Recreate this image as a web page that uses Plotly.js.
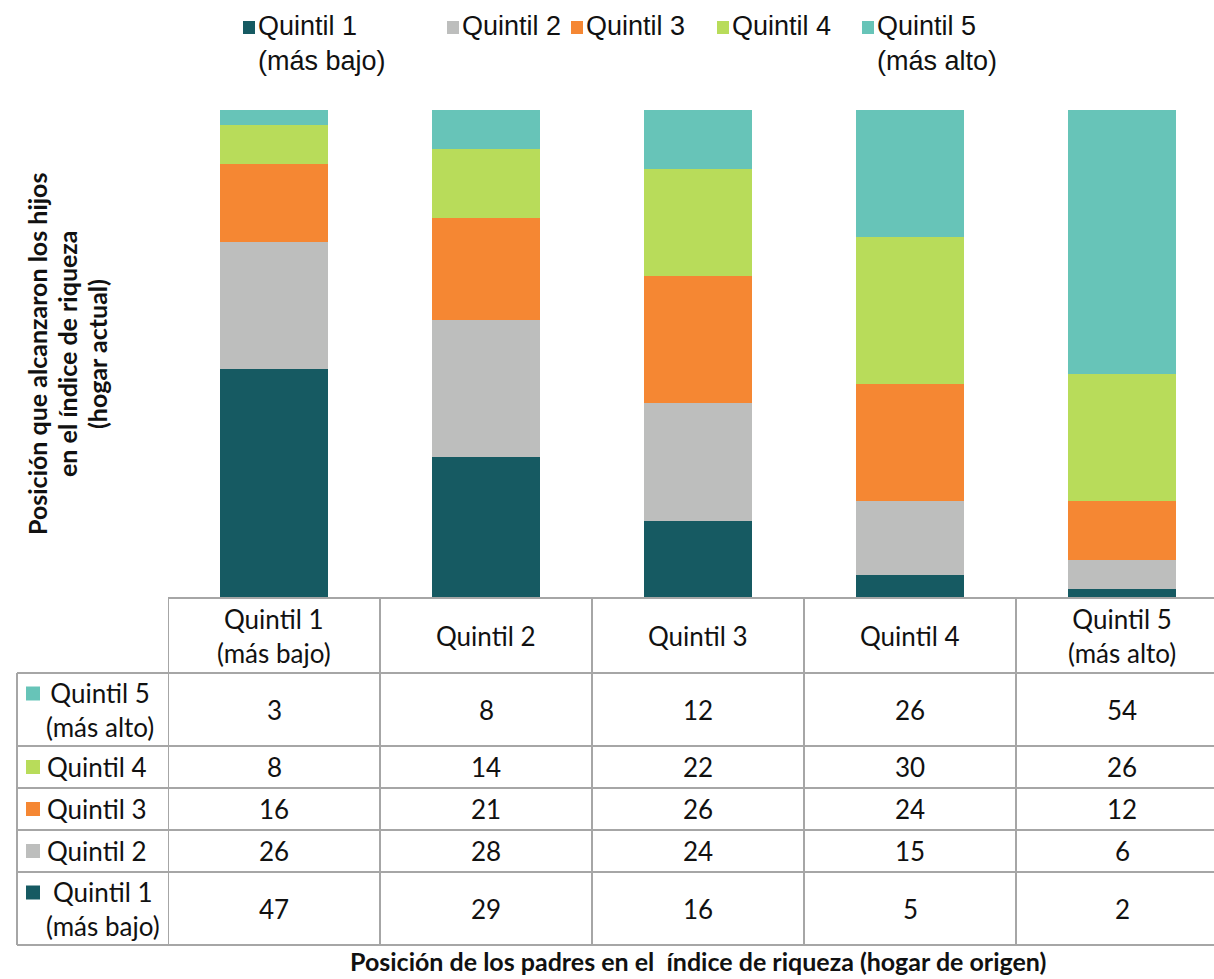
<!DOCTYPE html>
<html>
<head>
<meta charset="utf-8">
<script src="https://cdn.plot.ly/plotly-3.0.1.min.js"></script>
<style>html,body{margin:0;padding:0;background:#fff;}</style>
</head>
<body>
<div id="chart" style="width:1214px;height:979px;"></div>
<script>
// ---- data ----
const categories = ['Quintil 1 (más bajo)', 'Quintil 2', 'Quintil 3', 'Quintil 4', 'Quintil 5 (más alto)'];
const headerLabels = ['Quintil 1<br>(más bajo)', 'Quintil 2', 'Quintil 3', 'Quintil 4', 'Quintil 5<br>(más alto)'];
const seriesNames = ['Quintil 1<br>(más bajo)', 'Quintil 2', 'Quintil 3', 'Quintil 4', 'Quintil 5<br>(más alto)'];
const q1 = [47, 29, 16, 5, 2];
const q2 = [26, 28, 24, 15, 6];
const q3 = [16, 21, 26, 24, 12];
const q4 = [8, 14, 22, 30, 26];
const q5 = [3, 8, 12, 26, 54];
const seriesValues = [q1, q2, q3, q4, q5];
const colors = ['#165a62', '#bdbebd', '#f58733', '#b8dc5a', '#67c4b8'];
const yTitleLines = ['Posición que alcanzaron los hijos', 'en el índice de riqueza', '(hogar actual)'];
const xTitle = 'Posición de los padres en el  índice de riqueza (hogar de origen)';

// ---- layout geometry (pixels) ----
const W = 1214, H = 979;
const mL = 168, mR = 0, mT = 110, mB = 380;
const plotW = W - mL - mR, plotH = H - mT - mB;
const px2x = p => (p - mL) / plotW;          // pixel -> paper x
const py2y = p => (H - mB - p) / plotH;      // pixel -> paper y
const colW = 212;
const xMax = -0.5 + plotW / colW;

const tableTop = 598, headerH = 75, tallRow = 73, shortRow = 42;
const tableLeft = 17;
const lineStyle = {color: '#a6a6a6', width: 2};
const tableFont = {family: 'Lato, "Open Sans", sans-serif', size: 26, color: '#111'};
const legendFont = {family: '"Liberation Sans", Arial, sans-serif', size: 27, color: '#111'};
const titleFont = {family: 'Lato, "Open Sans", sans-serif', size: 25, color: '#111', weight: 'bold'};
const legendX = [243, 447, 571, 717, 862];

// ---- traces ----
const traces = seriesValues.map((vals, i) => ({
  type: 'bar', x: categories, y: vals, name: seriesNames[i].replace('<br>', ' '),
  marker: {color: colors[i], line: {width: 0}}, hoverinfo: 'x+y+name'
}));

const shapes = [];
const annotations = [];

// legend (manual, Excel-like)
seriesNames.forEach((name, i) => {
  shapes.push({type: 'rect', xref: 'paper', yref: 'paper',
    x0: px2x(legendX[i]), x1: px2x(legendX[i] + 12), y0: py2y(34), y1: py2y(21),
    fillcolor: colors[i], line: {width: 0}});
  annotations.push({xref: 'paper', yref: 'paper', x: px2x(legendX[i] + 13), y: py2y(9),
    xanchor: 'left', yanchor: 'top', align: 'left', showarrow: false,
    text: name, font: legendFont});
});

// table rows (top to bottom: Q5 .. Q1)
const rowOrder = [4, 3, 2, 1, 0];
const rowBounds = [tableTop, tableTop + headerH];
rowOrder.forEach(k => {
  const h = seriesNames[k].includes('<br>') ? tallRow : shortRow;
  rowBounds.push(rowBounds[rowBounds.length - 1] + h);
});
const tableBottom = rowBounds[rowBounds.length - 1];

// horizontal lines
rowBounds.forEach((yb, j) => {
  shapes.push({type: 'line', xref: 'paper', yref: 'paper',
    x0: j === 0 ? 0 : px2x(tableLeft), x1: 1, y0: py2y(yb), y1: py2y(yb), line: lineStyle});
});
// vertical lines
shapes.push({type: 'line', xref: 'paper', yref: 'paper', x0: px2x(tableLeft), x1: px2x(tableLeft),
  y0: py2y(rowBounds[1]), y1: py2y(tableBottom), line: lineStyle});
for (let c = 0; c < categories.length; c++) {
  shapes.push({type: 'line', xref: 'x', yref: 'paper', x0: c - 0.5, x1: c - 0.5,
    y0: py2y(tableTop), y1: py2y(tableBottom), line: lineStyle});
}

// header labels
headerLabels.forEach((lab, c) => {
  annotations.push({xref: 'x', yref: 'paper', x: c, y: py2y((rowBounds[0] + rowBounds[1]) / 2),
    xanchor: 'center', yanchor: 'middle', align: 'center', showarrow: false, text: lab, font: tableFont});
});

// body
rowOrder.forEach((k, r) => {
  const top = rowBounds[r + 1], bot = rowBounds[r + 2];
  const mid = (top + bot) / 2;
  const multi = seriesNames[k].includes('<br>');
  const sqC = multi ? mid - 16 : mid;
  shapes.push({type: 'rect', xref: 'paper', yref: 'paper',
    x0: px2x(26), x1: px2x(40), y0: py2y(sqC + 7), y1: py2y(sqC - 7),
    fillcolor: colors[k], line: {width: 0}});
  annotations.push({xref: 'paper', yref: 'paper', x: px2x(multi ? 44 : 45), y: py2y(mid),
    xanchor: 'left', yanchor: 'middle', align: multi ? 'center' : 'left', showarrow: false,
    text: seriesNames[k], font: tableFont});
  seriesValues[k].forEach((v, c) => {
    annotations.push({xref: 'x', yref: 'paper', x: c, y: py2y(mid),
      xanchor: 'center', yanchor: 'middle', showarrow: false, text: String(v), font: tableFont});
  });
});

// axis titles
const yTitleX = [37, 67, 97];
yTitleLines.forEach((t, i) => {
  annotations.push({xref: 'paper', yref: 'paper', x: px2x(yTitleX[i]), y: py2y(354), textangle: -90,
    xanchor: 'center', yanchor: 'middle', align: 'center', showarrow: false, text: t, font: titleFont});
});
annotations.push({xref: 'paper', yref: 'paper', x: px2x(698), y: py2y(978),
  xanchor: 'center', yanchor: 'bottom', showarrow: false, text: xTitle, font: titleFont});

const layout = {
  width: W, height: H,
  margin: {l: mL, r: mR, t: mT, b: mB, pad: 0},
  barmode: 'stack', bargap: 0.49,
  showlegend: false,
  paper_bgcolor: '#fff', plot_bgcolor: '#fff',
  xaxis: {type: 'category', range: [-0.5, xMax], showticklabels: false, showgrid: false,
    zeroline: false, showline: false, ticks: '', fixedrange: true},
  yaxis: {range: [0, 100], showticklabels: false, showgrid: false, zeroline: false,
    showline: false, ticks: '', fixedrange: true},
  shapes: shapes, annotations: annotations
};

Plotly.newPlot('chart', traces, layout, {displayModeBar: false, staticPlot: true});
</script>
</body>
</html>
